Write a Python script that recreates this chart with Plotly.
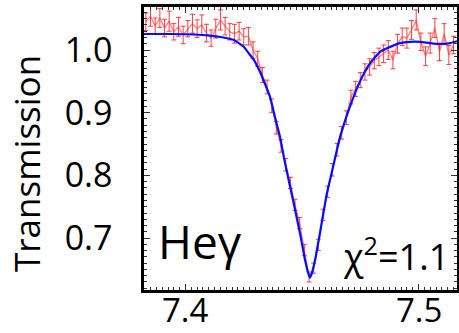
import plotly.graph_objects as go

# measured data (wavelength, transmission, error)
x_data = [7.383, 7.385, 7.387, 7.389, 7.391, 7.393, 7.395, 7.397, 7.399, 7.401,
          7.403, 7.405, 7.407, 7.409, 7.411, 7.413, 7.415, 7.417, 7.419, 7.421,
          7.423, 7.425, 7.427, 7.429, 7.431, 7.433, 7.435, 7.437, 7.439, 7.441,
          7.443, 7.445, 7.447, 7.449, 7.451, 7.453, 7.455, 7.457, 7.459, 7.461,
          7.463, 7.465, 7.467, 7.469, 7.471, 7.473, 7.475, 7.477, 7.479, 7.481,
          7.483, 7.485, 7.487, 7.489, 7.491, 7.493, 7.495, 7.497, 7.499, 7.501,
          7.503, 7.505, 7.507, 7.509, 7.511, 7.513, 7.515]
y_data = [1.045, 1.054, 1.038, 1.051, 1.035, 1.046, 1.029, 1.037, 1.024, 1.034,
          1.042, 1.034, 1.040, 1.027, 1.019, 1.034, 1.048, 1.038, 1.029, 1.026,
          1.030, 1.021, 1.022, 1.000, 0.986, 0.960, 0.941, 0.911, 0.876, 0.847,
          0.817, 0.788, 0.753, 0.724, 0.681, 0.638, 0.652, 0.689, 0.737, 0.774,
          0.809, 0.841, 0.868, 0.892, 0.925, 0.938, 0.952, 0.965, 0.973, 0.983,
          0.989, 0.994, 1.000, 0.984, 1.010, 1.021, 1.019, 1.032, 1.048, 1.013,
          0.990, 1.011, 1.035, 0.997, 1.026, 0.992, 1.008]
y_err = [0.014, 0.016, 0.013, 0.015, 0.014, 0.016, 0.013, 0.015, 0.014, 0.013,
         0.015, 0.014, 0.016, 0.014, 0.013, 0.015, 0.016, 0.014, 0.013, 0.015,
         0.014, 0.013, 0.014, 0.013, 0.012, 0.012, 0.011, 0.011, 0.010, 0.010,
         0.010, 0.009, 0.009, 0.009, 0.009, 0.008, 0.008, 0.009, 0.009, 0.009,
         0.010, 0.010, 0.010, 0.011, 0.011, 0.012, 0.012, 0.013, 0.013, 0.013,
         0.014, 0.014, 0.015, 0.014, 0.015, 0.014, 0.016, 0.015, 0.016, 0.014,
         0.015, 0.016, 0.015, 0.014, 0.016, 0.015, 0.014]

# fitted model curve
x_fit = [7.3822, 7.3933, 7.4036, 7.4105, 7.4152, 7.4208, 7.4251, 7.4277, 7.4294,
         7.4320, 7.4341, 7.4363, 7.4384, 7.4406, 7.4427, 7.4461, 7.4491, 7.4513,
         7.4526, 7.4534, 7.4543, 7.4556, 7.4577, 7.4607, 7.4633, 7.4663, 7.4706,
         7.4749, 7.4792, 7.4835, 7.4878, 7.4921, 7.4964, 7.5006, 7.5049, 7.5092,
         7.5135, 7.5165]
y_fit = [1.0255, 1.0255, 1.0247, 1.0230, 1.0207, 1.0159, 1.0048, 0.992, 0.984,
         0.965, 0.946, 0.925, 0.893, 0.861, 0.820, 0.761, 0.708, 0.665,
         0.645, 0.637, 0.645, 0.665, 0.708, 0.772, 0.813, 0.861, 0.910,
         0.950, 0.979, 0.997, 1.005, 1.011, 1.013, 1.013, 1.011, 1.0096,
         1.011, 1.014]

x_ticks = [7.4, 7.5]
x_ticklabels = ["7.4", "7.5"]
y_ticks = [0.7, 0.8, 0.9, 1.0]
y_ticklabels = ["0.7", "0.8", "0.9", "1.0"]

FONT = "Open Sans"

fig = go.Figure()
fig.add_trace(go.Scatter(
    x=x_data, y=y_data, mode="lines",
    line=dict(color="rgba(255,50,50,0.65)", width=1.3),
    error_y=dict(type="data", array=y_err, visible=True,
                 color="rgba(255,30,30,0.85)", thickness=1, width=2.5),
    showlegend=False, hoverinfo="skip"))
fig.add_trace(go.Scatter(
    x=x_fit, y=y_fit, mode="lines",
    line=dict(color="#0010ff", width=2.2, shape="spline", smoothing=0.5),
    showlegend=False))

axis_common = dict(
    showline=True, linecolor="black", linewidth=2.5, mirror="allticks",
    ticks="inside", ticklen=6, tickwidth=1, tickcolor="#333",
    showgrid=False, zeroline=False, automargin=False,
    tickfont=dict(family=FONT, size=34, color="black"),
)
fig.update_xaxes(range=[7.3822, 7.5165], tickvals=x_ticks, ticktext=x_ticklabels,
                 showticklabels=False,
                 minor=dict(ticks="inside", ticklen=3, dtick=0.0025, tickcolor="#333", showgrid=False),
                 **axis_common)
fig.update_yaxes(range=[0.6172, 1.0686], tickvals=y_ticks, ticktext=y_ticklabels,
                 minor=dict(ticks="inside", ticklen=3, dtick=0.01, tickcolor="#333", showgrid=False),
                 ticklabelstandoff=22, **axis_common)

# x tick labels placed at their tick values just below the frame
for v, t in zip(x_ticks, x_ticklabels):
    fig.add_annotation(text=t, xref="x", yref="paper", x=v, y=(290 - 309.5) / 283,
                       showarrow=False, xanchor="center", yanchor="middle",
                       font=dict(family=FONT, size=33, color="black"))

fig.add_annotation(text="Transmission", textangle=-90, xref="paper", yref="paper",
                   x=(27 - 144) / 313, y=(290 - 163) / 283, showarrow=False,
                   xanchor="center", yanchor="middle",
                   font=dict(family=FONT, size=35, color="black"))
fig.add_annotation(text="Heγ", xref="paper", yref="paper",
                   x=(156 - 144) / 313, y=(290 - 241) / 283, showarrow=False,
                   xanchor="left", yanchor="middle",
                   font=dict(family=FONT, size=46, color="black"))
fig.add_annotation(text="χ<sup>2</sup>=1.1", xref="paper", yref="paper",
                   x=(451 - 144) / 313, y=(290 - 254) / 283, showarrow=False,
                   xanchor="right", yanchor="middle",
                   font=dict(family=FONT, size=36, color="black"))

fig.update_layout(width=459, height=333,
                  margin=dict(l=144, r=2, t=7, b=43),
                  paper_bgcolor="white", plot_bgcolor="white")
fig.write_html("out.html", config={"displayModeBar": False},
               post_script="document.body.style.margin='0px';")
